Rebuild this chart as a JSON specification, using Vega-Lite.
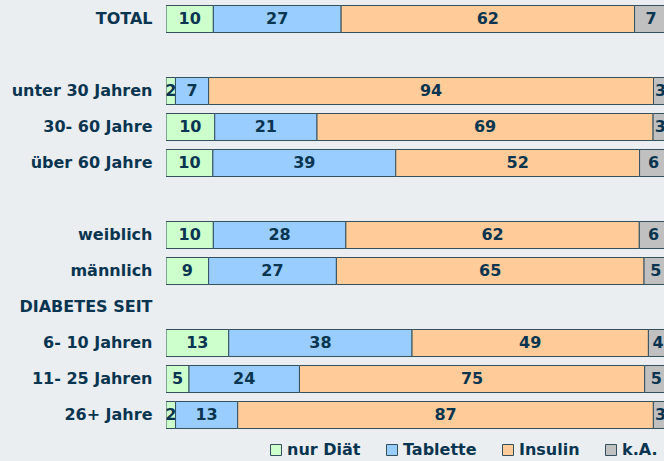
{
  "$schema": "https://vega.github.io/schema/vega-lite/v6.json",
  "width": 498,
  "height": 432,
  "autosize": "none",
  "padding": {"left": 166, "top": 1, "right": 0, "bottom": 28},
  "background": "#EAEEF0",
  "config": {"view": {"stroke": null}, "font": "DejaVu Sans"},
  "data": {
    "values": [
      {"c": "TOTAL", "k": "nur Diät", "v": 10},
      {"c": "TOTAL", "k": "Tablette", "v": 27},
      {"c": "TOTAL", "k": "Insulin", "v": 62},
      {"c": "TOTAL", "k": "k.A.", "v": 7},
      {"c": "unter 30 Jahren", "k": "nur Diät", "v": 2},
      {"c": "unter 30 Jahren", "k": "Tablette", "v": 7},
      {"c": "unter 30 Jahren", "k": "Insulin", "v": 94},
      {"c": "unter 30 Jahren", "k": "k.A.", "v": 3},
      {"c": "30- 60 Jahre", "k": "nur Diät", "v": 10},
      {"c": "30- 60 Jahre", "k": "Tablette", "v": 21},
      {"c": "30- 60 Jahre", "k": "Insulin", "v": 69},
      {"c": "30- 60 Jahre", "k": "k.A.", "v": 3},
      {"c": "über 60 Jahre", "k": "nur Diät", "v": 10},
      {"c": "über 60 Jahre", "k": "Tablette", "v": 39},
      {"c": "über 60 Jahre", "k": "Insulin", "v": 52},
      {"c": "über 60 Jahre", "k": "k.A.", "v": 6},
      {"c": "weiblich", "k": "nur Diät", "v": 10},
      {"c": "weiblich", "k": "Tablette", "v": 28},
      {"c": "weiblich", "k": "Insulin", "v": 62},
      {"c": "weiblich", "k": "k.A.", "v": 6},
      {"c": "männlich", "k": "nur Diät", "v": 9},
      {"c": "männlich", "k": "Tablette", "v": 27},
      {"c": "männlich", "k": "Insulin", "v": 65},
      {"c": "männlich", "k": "k.A.", "v": 5},
      {"c": "6- 10 Jahren", "k": "nur Diät", "v": 13},
      {"c": "6- 10 Jahren", "k": "Tablette", "v": 38},
      {"c": "6- 10 Jahren", "k": "Insulin", "v": 49},
      {"c": "6- 10 Jahren", "k": "k.A.", "v": 4},
      {"c": "11- 25 Jahren", "k": "nur Diät", "v": 5},
      {"c": "11- 25 Jahren", "k": "Tablette", "v": 24},
      {"c": "11- 25 Jahren", "k": "Insulin", "v": 75},
      {"c": "11- 25 Jahren", "k": "k.A.", "v": 5},
      {"c": "26+ Jahre", "k": "nur Diät", "v": 2},
      {"c": "26+ Jahre", "k": "Tablette", "v": 13},
      {"c": "26+ Jahre", "k": "Insulin", "v": 87},
      {"c": "26+ Jahre", "k": "k.A.", "v": 3}
    ]
  },
  "transform": [
    {"stack": "v", "groupby": ["c"], "offset": "normalize", "as": ["x0", "x1"]},
    {"calculate": "(datum.x0 + datum.x1) / 2", "as": "xm"}
  ],
  "encoding": {
    "y": {
      "field": "c",
      "type": "nominal",
      "scale": {
        "domain": ["TOTAL", " ", "unter 30 Jahren", "30- 60 Jahre", "über 60 Jahre", "  ", "weiblich", "männlich", "DIABETES SEIT", "6- 10 Jahren", "11- 25 Jahren", "26+ Jahre"],
        "paddingInner": 0.25,
        "paddingOuter": 0.125
      },
      "axis": {
        "title": null,
        "ticks": false,
        "domain": false,
        "labelPadding": 14,
        "labelFontSize": 16,
        "labelFontWeight": "bold",
        "labelFont": "DejaVu Sans",
        "labelColor": "#0a3550",
        "labelLimit": 0,
        "labelAlign": "right",
        "labelBaseline": "middle"
      }
    }
  },
  "layer": [
    {
      "mark": {"type": "bar", "clip": true, "stroke": "#34505f", "strokeWidth": 1},
      "encoding": {
        "x": {"field": "x0", "type": "quantitative", "scale": {"domain": [0, 0.9926], "nice": false}, "axis": null},
        "x2": {"field": "x1"},
        "color": {
          "field": "k",
          "type": "nominal",
          "scale": {
            "domain": ["nur Diät", "Tablette", "Insulin", "k.A."],
            "range": ["#CCFFCC", "#99CCFF", "#FFCC99", "#C0C0C0"]
          },
          "legend": {
            "orient": "none",
            "legendX": 102,
            "legendY": 441,
            "direction": "horizontal",
            "title": null,
            "symbolType": "square",
            "symbolSize": 121,
            "symbolStrokeColor": "#34505f",
            "symbolStrokeWidth": 1,
            "symbolOpacity": 1,
            "labelFontSize": 16,
            "labelFontWeight": "bold",
            "labelFont": "DejaVu Sans",
            "labelColor": "#0a3550",
            "labelOffset": 3,
            "columnPadding": 23,
            "padding": 0
          }
        }
      }
    },
    {
      "mark": {"type": "text", "clip": true, "fontWeight": "bold", "fontSize": 16, "font": "DejaVu Sans", "color": "#0a3550", "baseline": "middle", "align": "center"},
      "encoding": {
        "x": {"field": "xm", "type": "quantitative"},
        "text": {"field": "v", "type": "quantitative"}
      }
    }
  ]
}
